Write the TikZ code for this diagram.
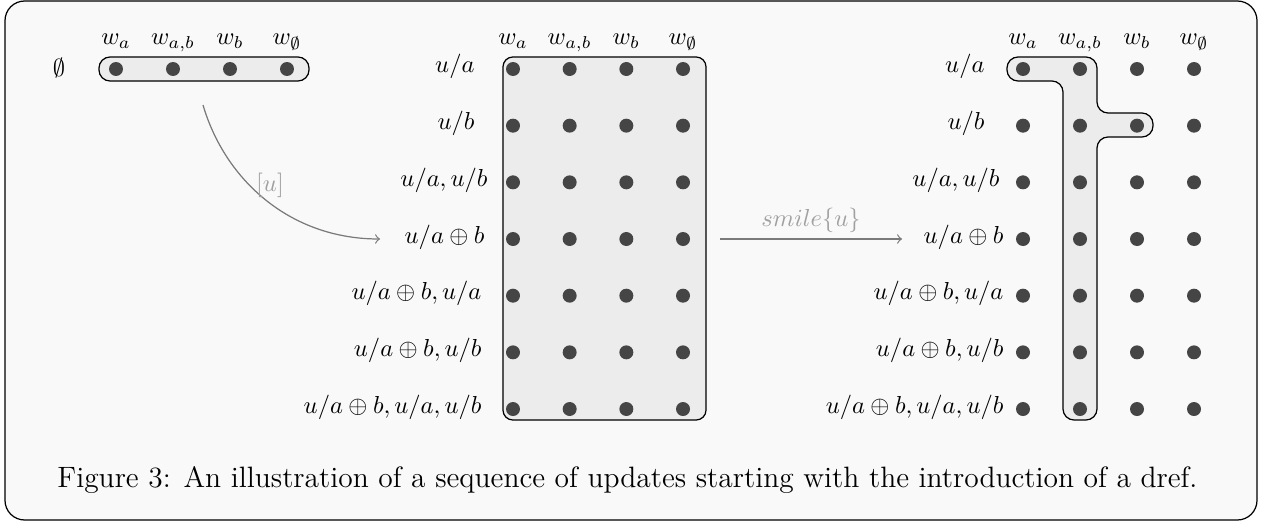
\documentclass[tikz,border=0pt]{standalone}
\definecolor{bgc}{HTML}{F9F9F9}
\definecolor{boxc}{HTML}{ECECEC}
\definecolor{dotc}{HTML}{454545}
\definecolor{arrc}{HTML}{7A7A7A}
\definecolor{arrlbl}{HTML}{A0A0A0}
\begin{document}
\begin{tikzpicture}[x=0.4075pt,y=-0.4075pt,
  dot/.style={circle, fill=dotc, inner sep=0pt, minimum size=5.7pt},
  rowlbl/.style={anchor=base east, inner sep=0pt},
  collbl/.style={anchor=base, inner sep=0pt},
  setbox/.style={fill=boxc, draw=black, line width=0.5pt},
  arr/.style={draw=arrc, line width=0.5pt, ->},
  arrtxt/.style={text=arrlbl, inner sep=0pt}]
\useasboundingbox (0,0) rectangle (1266,522);
\draw[fill=bgc, draw=black, line width=0.5pt, rounded corners=8pt] (5,1) rectangle (1257,520);

% boxes
\draw[setbox, rounded corners=4.5pt] (99,57) rectangle (309,81);
\draw[setbox, rounded corners=4pt] (503,57) rectangle (706,420);
\draw[setbox, rounded corners=4.5pt] (1007,57) -- (1097,57) -- (1097,113) -- (1153,113) -- (1153,137) -- (1097,137) -- (1097,420) -- (1063,420) -- (1063,81) -- (1007,81) -- cycle;

% column labels and dots
\foreach \i/\w in {1/a,2/{a,b},3/b,4/\emptyset}{
  \pgfmathsetmacro{\xl}{116+57*(\i-1)}
  \pgfmathsetmacro{\xm}{513+56.67*(\i-1)}
  \pgfmathsetmacro{\xr}{1023+57*(\i-1)}
  \node[collbl] (lc\i) at (\xl,45) {$w_{\w}$};
  \node[collbl] (mc\i) at (\xm,45) {$w_{\w}$};
  \node[collbl] (rc\i) at (\xr,45) {$w_{\w}$};
  \node[dot] (l-\i) at (\xl,69) {};
  \foreach \r in {1,...,7}{
    \pgfmathsetmacro{\yy}{69+56.67*(\r-1)}
    \node[dot] (m-\r-\i) at (\xm,\yy) {};
    \node[dot] (r-\r-\i) at (\xr,\yy) {};
  }
}

% left row label
\node[collbl] (lrow) at (59,77) {$\emptyset$};

% row labels
\foreach \r/\t/\xm/\xr in {
  1/{u/a}/475/985,
  2/{u/b}/475/985,
  3/{u/a, u/b}/488/1000,
  4/{u/a\oplus b}/485/1004,
  5/{u/a\oplus b, u/a}/482/1004,
  6/{u/a\oplus b, u/b}/482/1004,
  7/{u/a\oplus b, u/a, u/b}/482/1004}{
  \pgfmathsetmacro{\yy}{73+56.67*(\r-1)}
  \node[rowlbl] (ml\r) at (\xm,\yy) {$\t$};
  \node[rowlbl] (rl\r) at (\xr,\yy) {$\t$};
}

% arrows
\coordinate (a1s) at (203,105);
\coordinate (a1e) at (380,239);
\draw[arr] (a1s) .. controls (225,180) and (290,239) .. (a1e);
\node[arrtxt] (a1l) at (270,185) {$[u]$};
\coordinate (a2s) at (720,239);
\coordinate (a2e) at (902,239);
\draw[arr] (a2s) -- (a2e);
\node[arrtxt] (a2l) at (811,220) {$smile\{u\}$};

% caption
\node[anchor=base west, inner sep=0pt, font=\fontsize{12}{14}\selectfont] (cap) at (57,487) {Figure 3: An illustration of a sequence of updates starting with the introduction of a dref.};
\end{tikzpicture}
\end{document}
